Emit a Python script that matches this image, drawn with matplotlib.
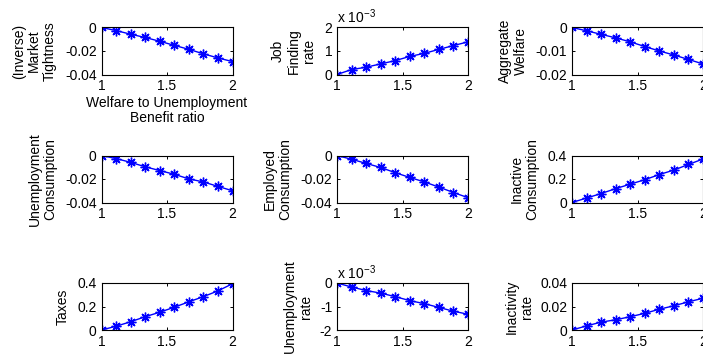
import matplotlib
matplotlib.use("Agg")
import matplotlib.pyplot as plt

plt.rcParams['font.family'] = ['Liberation Sans', 'DejaVu Sans']
plt.rcParams['mathtext.fontset'] = 'custom'
plt.rcParams['mathtext.rm'] = 'Liberation Sans'
plt.rcParams['mathtext.it'] = 'Liberation Sans'

# ---------------- data ----------------
ratio = [1.0, 1.111, 1.222, 1.333, 1.444, 1.556, 1.667, 1.778, 1.889, 2.0]

market_tightness = [0, -0.0026, -0.0057, -0.0085, -0.0117, -0.0152, -0.0186, -0.0224, -0.0259, -0.0290]
job_finding_e3 = [0, 0.21, 0.31, 0.45, 0.59, 0.77, 0.90, 1.07, 1.23, 1.39]      # x 10^-3
aggregate_welfare = [0, -0.0014, -0.0029, -0.0044, -0.0061, -0.0081, -0.0100, -0.0117, -0.0136, -0.0155]
unemp_consumption = [0, -0.0026, -0.0058, -0.0096, -0.0128, -0.0160, -0.0199, -0.0225, -0.0263, -0.0300]
emp_consumption = [0, -0.0032, -0.0067, -0.0102, -0.0146, -0.0187, -0.0225, -0.0269, -0.0315, -0.0359]
inactive_consumption = [0, 0.038, 0.076, 0.118, 0.156, 0.194, 0.238, 0.276, 0.324, 0.370]
taxes = [0, 0.032, 0.070, 0.113, 0.151, 0.194, 0.240, 0.284, 0.333, 0.394]
unemp_rate_e3 = [0, -0.17, -0.32, -0.43, -0.58, -0.75, -0.88, -1.04, -1.20, -1.33]  # x 10^-3
inactivity_rate = [0, 0.0035, 0.0067, 0.0087, 0.0113, 0.0142, 0.0177, 0.0206, 0.0240, 0.0270]

ylabels = ["(Inverse)\nMarket\nTightness", "Job\nFinding\nrate", "Aggregate\nWelfare",
           "Unemployment\nConsumption", "Employed\nConsumption", "Inactive\nConsumption",
           "Taxes", "Unemployment\nrate", "Inactivity\nrate"]
xlabel_first = "Welfare to Unemployment\nBenefit ratio"

xticks = [1, 1.5, 2]
xticklabels = ["1", "1.5", "2"]
yticks = [[-0.04, -0.02, 0], [0, 1, 2], [-0.02, -0.01, 0],
          [-0.04, -0.02, 0], [-0.04, -0.02, 0], [0, 0.2, 0.4],
          [0, 0.2, 0.4], [-2, -1, 0], [0, 0.02, 0.04]]
yticklabels = [["-0.04", "-0.02", "0"], ["0", "1", "2"], ["-0.02", "-0.01", "0"],
               ["-0.04", "-0.02", "0"], ["-0.04", "-0.02", "0"], ["0", "0.2", "0.4"],
               ["0", "0.2", "0.4"], ["-2", "-1", "0"], ["0", "0.02", "0.04"]]
scaled = [False, True, False, False, False, False, False, True, False]

series = [market_tightness, job_finding_e3, aggregate_welfare,
          unemp_consumption, emp_consumption, inactive_consumption,
          taxes, unemp_rate_e3, inactivity_rate]

# ---------------- layout (pixels) ----------------
W, H = 703, 355
fig = plt.figure(figsize=(W / 100, H / 100), dpi=100)

col_left = [101.5, 337, 572]
row_top = [27.5, 155.5, 283]
ax_w, ax_h = 131, 47
label_cx = [[34, 293.5, 513], [42.5, 277.5, 524.5], [63, 298, 519]]

for k in range(9):
    r, c = divmod(k, 3)
    l = col_left[c]
    t = row_top[r]
    ax = fig.add_axes([l / W, 1 - (t + ax_h) / H, ax_w / W, ax_h / H])
    ax.plot(ratio, series[k], '-', color=(0, 0, 1), lw=1.0,
            marker=(8, 2, 0), markersize=7, markeredgewidth=1.0)
    ax.set_xlim(1, 2)
    ax.set_ylim(yticks[k][0], yticks[k][-1])
    ax.set_xticks(xticks)
    ax.set_xticklabels(xticklabels)
    ax.set_yticks(yticks[k])
    ax.set_yticklabels(yticklabels[k])
    ax.tick_params(direction='in', length=2.5, width=0.7, labelsize=10,
                   top=True, right=True, pad=3.5, colors='black')
    for sp in ax.spines.values():
        sp.set_linewidth(0.8)
        sp.set_color('black')
    cy = t + ax_h / 2
    fig.text(label_cx[r][c] / W, 1 - cy / H, ylabels[k], rotation=90,
             ha='center', va='center', multialignment='center',
             fontsize=10, linespacing=1.12)
    if scaled[k]:
        ax.text(0.0, 1.03, r'x 10$^{-3}$', transform=ax.transAxes,
                ha='left', va='bottom', fontsize=10)
    if k == 0:
        fig.text((l + ax_w / 2) / W, 1 - 96 / H, xlabel_first, ha='center',
                 va='top', multialignment='center', fontsize=10, linespacing=1.12)

fig.savefig("out.png", dpi=100)
